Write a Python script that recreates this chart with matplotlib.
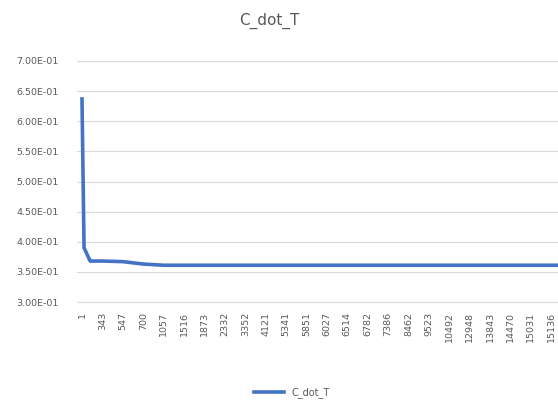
import matplotlib.pyplot as plt

# Category labels shown on the x axis (one every 10 categories)
tick_labels = ['1', '343', '547', '700', '1057', '1516', '1873', '2332',
               '3352', '4121', '5341', '5851', '6027', '6514', '6782',
               '7386', '8462', '9523', '10492', '12948', '13843', '14470',
               '15031', '15136']
# Read-off points of the C_dot_T series (category index, value)
point_index = [0, 1, 4, 10, 20, 30, 40, 60, 100, 160, 240]
point_value = [0.637, 0.390, 0.368, 0.368, 0.367, 0.363, 0.361, 0.361,
               0.361, 0.361, 0.361]

text_gray = '#595959'
grid_gray = '#D9D9D9'

fig = plt.figure(figsize=(5.58, 4.04), dpi=100)
# Plot area runs past the right edge, as in the cropped screenshot
ax = fig.add_axes([77 / 558, 1 - 302 / 404, 481 / 558, 241 / 404])

# Draw the series
ax.plot(point_index, point_value, color='#4472C4', linewidth=2.6,
        solid_joinstyle='round', label='C_dot_T')

# Y axis: scientific labels like Excel
ax.set_ylim(0.30, 0.70)
yticks = [0.30 + 0.05 * i for i in range(9)]
ax.set_yticks(yticks)
ax.set_yticklabels([f'{v:.2E}' for v in yticks], fontsize=6.8,
                   color=text_gray)

# X axis: category ticks every 10 points, rotated labels
ax.set_xlim(-2.45, 233.3)
ax.set_xticks([i * 10 for i in range(len(tick_labels))])
ax.set_xticklabels(tick_labels, rotation=90, fontsize=6.8, color=text_gray)

# Gridlines and spines
ax.grid(axis='y', color=grid_gray, linewidth=0.8)
ax.set_axisbelow(True)
for side in ['top', 'right', 'left']:
    ax.spines[side].set_visible(False)
ax.spines['bottom'].set_color(grid_gray)
ax.tick_params(axis='y', length=0, pad=13)
ax.tick_params(axis='x', length=0, pad=7)

# Title and legend placed in figure coordinates
fig.text(269 / 558, 1 - 21 / 404, 'C_dot_T', ha='center', va='center',
         fontsize=11, color=text_gray)
fig.legend(loc='center', bbox_to_anchor=(292 / 558, 1 - 393 / 404),
           frameon=False, fontsize=7, handlelength=3,
           labelcolor=text_gray)

fig.savefig('out.png', dpi=100)
